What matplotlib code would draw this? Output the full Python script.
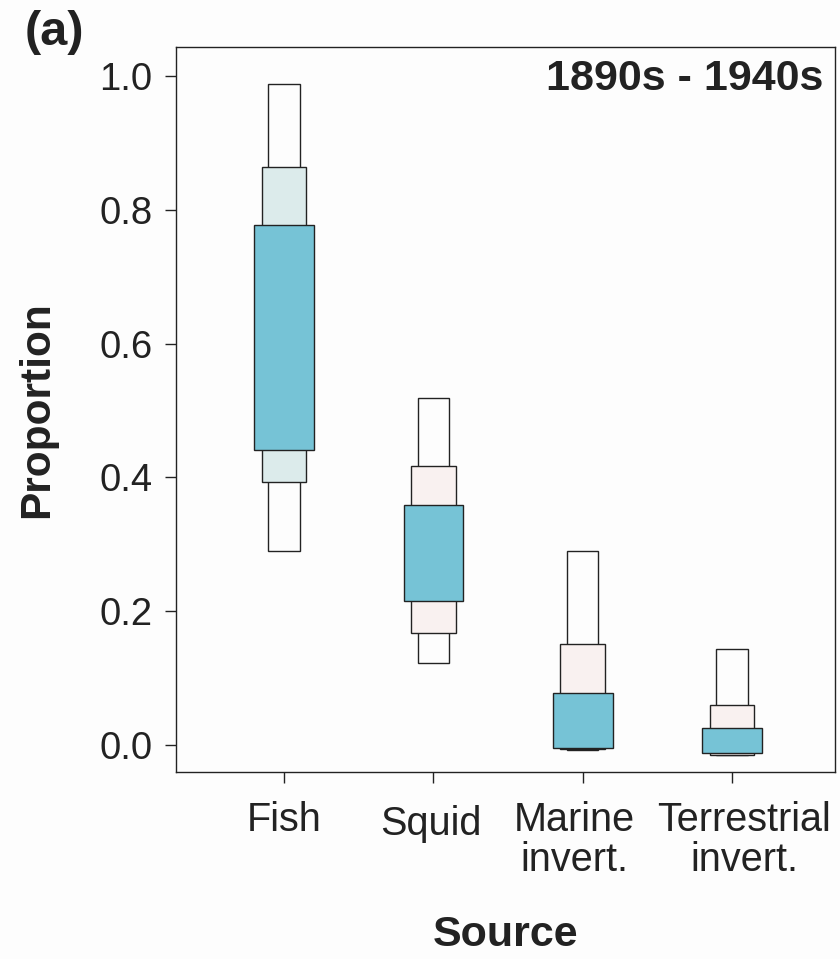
import numpy as np
import matplotlib
matplotlib.use('Agg')
import matplotlib.pyplot as plt
from matplotlib.transforms import ScaledTranslation

plt.rcParams['font.family'] = ['Liberation Sans', 'DejaVu Sans']

# Data: credible intervals of source proportions
sources = ['Fish', 'Squid', 'Marine\ninvert.', 'Terrestrial\ninvert.']
lo95 = [0.290, 0.123, -0.007, -0.015]
hi95 = [0.987, 0.519, 0.290, 0.143]
lo75 = [0.393, 0.167, -0.006, -0.014]
hi75 = [0.864, 0.417, 0.151, 0.060]
lo50 = [0.441, 0.215, -0.004, -0.012]
hi50 = [0.777, 0.359, 0.078, 0.025]
mid_colors = ['#dcebeb', '#f9f1f0', '#f9f1f0', '#f9f1f0']

bg = '#fdfdfd'
fig = plt.figure(figsize=(8.4, 9.59), dpi=100, facecolor=bg)
ax = fig.add_axes([0.2095, 0.195, 0.7845, 0.756], facecolor=bg)

x = np.arange(1, len(sources) + 1)
lo95, hi95 = np.array(lo95), np.array(hi95)
lo75, hi75 = np.array(lo75), np.array(hi75)
lo50, hi50 = np.array(lo50), np.array(hi50)

ax.bar(x, hi95 - lo95, bottom=lo95, width=0.21, color=bg,
       edgecolor='#222222', linewidth=1.0, zorder=2)
ax.bar(x, hi75 - lo75, bottom=lo75, width=0.30, color=mid_colors,
       edgecolor='#222222', linewidth=1.0, zorder=3)
ax.bar(x, hi50 - lo50, bottom=lo50, width=0.40, color='#76c3d6',
       edgecolor='#222222', linewidth=1.0, zorder=4)

ax.set_xlim(0.276, 4.69)
ax.set_ylim(-0.040, 1.043)
ax.set_yticks([0.0, 0.2, 0.4, 0.6, 0.8, 1.0])
ax.set_yticklabels(['0.0', '0.2', '0.4', '0.6', '0.8', '1.0'])
ax.set_xticks(x)
ax.set_xticklabels(sources, linespacing=1.05)
ax.tick_params(axis='y', labelsize=27.5, length=8, width=1.0, pad=9, colors='#222222')
ax.tick_params(axis='x', labelsize=28.5, length=8, width=1.0, pad=13, colors='#222222')
for s in ax.spines.values():
    s.set_linewidth(1.0)
    s.set_color('#222222')

# small nudges of the tick labels, as in the original (pixels)
nudges = [(0, 0), (-3, -4), (-8, 0), (12, 0)]
for lbl, (dx, dy) in zip(ax.get_xticklabels(), nudges):
    lbl.set_transform(lbl.get_transform() + ScaledTranslation(dx / 100, dy / 100, fig.dpi_scale_trans))

ax.set_ylabel('Proportion', fontsize=30.5, fontweight='bold', labelpad=30, color='#222222')
ax.set_xlabel('Source', fontsize=31, fontweight='bold', labelpad=26, color='#222222')
ax.text(0.982, 0.956, '1890s - 1940s', transform=ax.transAxes, ha='right', va='center',
        fontsize=31, fontweight='bold', color='#222222')
fig.text(0.029, 0.990, '(a)', ha='left', va='top', fontsize=35, fontweight='bold', color='#222222')

fig.savefig('out.png', dpi=100, facecolor=bg)
